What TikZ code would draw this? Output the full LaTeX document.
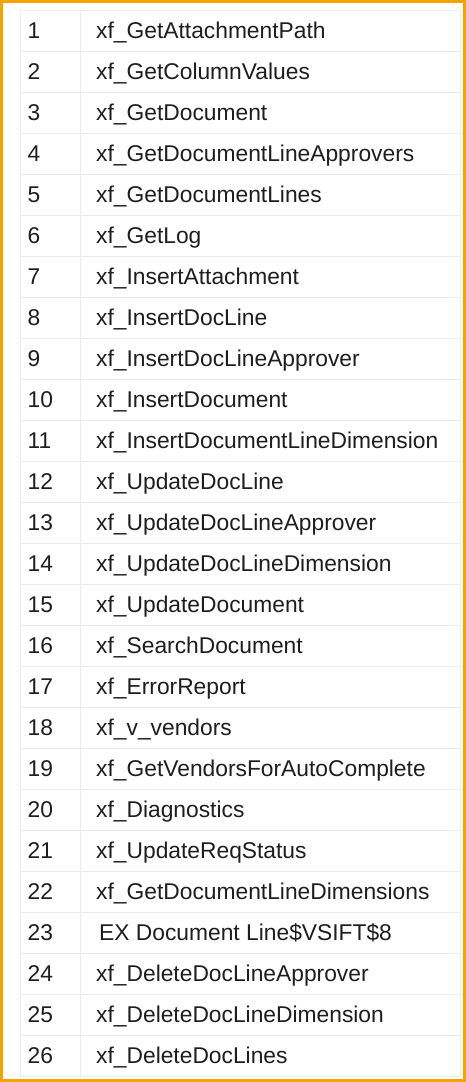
\documentclass[tikz,border=0pt]{standalone}
\usepackage{fontspec}
\setmainfont{Liberation Sans}
\definecolor{framecol}{HTML}{F5A300}
\definecolor{gridcol}{HTML}{EBEBEB}
\definecolor{inkcol}{HTML}{1E1E1E}
\begin{document}
\begin{tikzpicture}[x=1pt,y=-1pt,
  cell/.style={anchor=base west, inner sep=0pt, font=\fontsize{22.8}{24}\selectfont, text=inkcol},
  gridline/.style={draw=gridcol, line width=1pt}]
\useasboundingbox (0,0) rectangle (466,1082);
\fill[white] (0,0) rectangle (466,1082);
% grid
\foreach \k in {0,...,26}{
  \pgfmathsetmacro{\yy}{10+41*\k}
  \draw[gridline] (20,\yy) -- (460,\yy);
}
\draw[gridline] (20,10) -- (20,1076);
\draw[gridline] (80,10) -- (80,1076);
\draw[gridline] (460,10) -- (460,1076);
% rows
\foreach \t/\dx [count=\i] in {
  xf\_GetAttachmentPath/0,
  xf\_GetColumnValues/0,
  xf\_GetDocument/0,
  xf\_GetDocumentLineApprovers/0,
  xf\_GetDocumentLines/0,
  xf\_GetLog/0,
  xf\_InsertAttachment/0,
  xf\_InsertDocLine/0,
  xf\_InsertDocLineApprover/0,
  xf\_InsertDocument/0,
  xf\_InsertDocumentLineDimension/0,
  xf\_UpdateDocLine/0,
  xf\_UpdateDocLineApprover/0,
  xf\_UpdateDocLineDimension/0,
  xf\_UpdateDocument/0,
  xf\_SearchDocument/0,
  xf\_ErrorReport/0,
  xf\_v\_vendors/0,
  xf\_GetVendorsForAutoComplete/0,
  xf\_Diagnostics/0,
  xf\_UpdateReqStatus/0,
  xf\_GetDocumentLineDimensions/0,
  EX Document Line\$VSIFT\$8/3,
  xf\_DeleteDocLineApprover/0,
  xf\_DeleteDocLineDimension/0,
  xf\_DeleteDocLines/0}{
  \pgfmathsetmacro{\by}{38.5+41*(\i-1)}
  \pgfmathsetmacro{\tx}{96+\dx}
  \node[cell] (n\i) at (27.5,\by) {\i};
  \node[cell] (t\i) at (\tx,\by) {\t};
}
% frame
\draw[framecol, line width=3pt] (1.5,1.5) rectangle (464.5,1080.5);
\end{tikzpicture}
\end{document}
